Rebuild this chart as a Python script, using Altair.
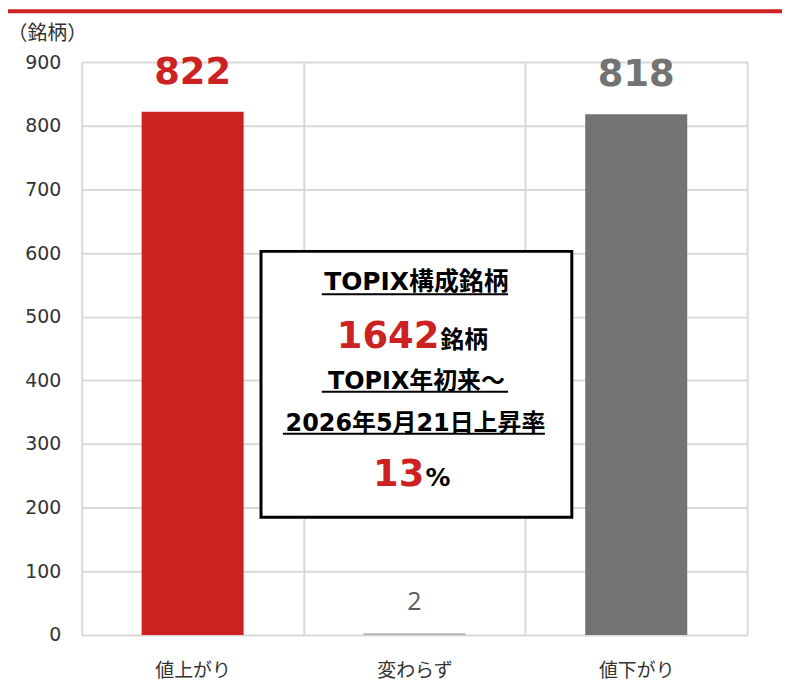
import altair as alt
import pandas as pd

# ---- data ----
categories = ["値上がり", "変わらず", "値下がり"]
counts = [822, 2, 818]
y_ticks = [0, 100, 200, 300, 400, 500, 600, 700, 800, 900]
y_unit = "（銘柄）"

box_title = "TOPIX構成銘柄"
total_count = "1642"
total_unit = "銘柄"
period_line1 = "TOPIX年初来～"
period_line2 = "2026年5月21日上昇率"
rise_value = "13"
rise_unit = "%"

RED = "#CC2222"
GRAY = "#737373"
LIGHT = "#A6A6A6"
GRID = "#D9D9D9"
MIX_FONT = "DejaVu Sans, Noto Sans CJK JP"

df = pd.DataFrame({"cat": categories, "n": counts})
one = pd.DataFrame({"a": [0]})

x_enc = alt.X(
    "cat:N", sort=categories,
    scale=alt.Scale(paddingInner=0, paddingOuter=0),
    axis=alt.Axis(title=None, grid=True, tickBand="extent", gridColor=GRID, gridWidth=2,
                  ticks=False, domain=False, labelAngle=0, labelFont="Noto Sans CJK JP",
                  labelFontSize=19, labelColor="#333333", labelPadding=27),
)
y_enc = alt.Y(
    "n:Q",
    scale=alt.Scale(domain=[0, 900], nice=False),
    axis=alt.Axis(values=y_ticks, title=y_unit, titleAngle=0, titleX=-35, titleY=-29,
                  titleAlign="center", titleBaseline="middle", titleFont="Noto Sans CJK JP",
                  titleFontSize=20, titleFontWeight="normal", titleColor="#333333",
                  labelFont="DejaVu Sans", labelFontSize=19, labelColor="#333333", labelPadding=21,
                  ticks=False, domain=False, gridColor=GRID, gridWidth=2),
)
color_enc = alt.Color("cat:N", scale=alt.Scale(domain=categories, range=[RED, LIGHT, GRAY]), legend=None)

bars = alt.Chart(df).mark_bar(width=alt.RelativeBandSize(0.46)).encode(x=x_enc, y=y_enc, color=color_enc)

big_labels = alt.Chart(df).transform_filter(alt.datum.n > 100).mark_text(
    font="DejaVu Sans", fontSize=37, fontWeight="bold", baseline="alphabetic", dy=-28
).encode(x=x_enc, y=y_enc, text="n:Q", color=color_enc)

small_labels = alt.Chart(df).transform_filter(alt.datum.n <= 100).mark_text(
    font="Open Sans", fontSize=25, color="#595959", baseline="alphabetic", dy=-24
).encode(x=x_enc, y=y_enc, text="n:Q")

top_line = alt.Chart(one).mark_rule(color=RED, strokeWidth=4).encode(
    x=alt.value(-74), x2=alt.value(703), y=alt.value(-51)
)

box = alt.Chart(one).mark_rect(fill="white", stroke="black", strokeWidth=3).encode(
    x=alt.value(180), x2=alt.value(492), y=alt.value(190), y2=alt.value(457)
)


def txt(s, xv, yv, size, color="black", align="center"):
    return alt.Chart(one).mark_text(
        text=s, font=MIX_FONT, fontSize=size, fontWeight="bold", color=color,
        align=align, baseline="alphabetic"
    ).encode(x=alt.value(xv), y=alt.value(yv))


def uline(x1, x2, yv):
    return alt.Chart(one).mark_rule(color="black", strokeWidth=2).encode(
        x=alt.value(x1), x2=alt.value(x2), y=alt.value(yv)
    )


annot = [
    txt(box_title, 336, 229, 25), uline(241, 428, 233),
    txt(total_count, 359, 287, 37, RED, "right"), txt(total_unit, 360, 287, 24, "black", "left"),
    txt(period_line1, 336, 328, 24), uline(241, 428, 331),
    txt(period_line2, 335, 370, 24), uline(202, 465, 373),
    txt(rise_value, 344, 426, 37, RED, "right"), txt(rise_unit, 345, 426, 25, "black", "left"),
]

chart = alt.layer(top_line, bars, big_labels, small_labels, box, *annot).properties(
    width=668, height=575,
    autosize=alt.AutoSizeParams(type="none"),
    padding={"left": 74, "top": 53, "right": 35, "bottom": 55},
    background="white",
).configure_view(stroke=None)

chart.save("out.html", embed_options={"renderer": "svg", "actions": False})
